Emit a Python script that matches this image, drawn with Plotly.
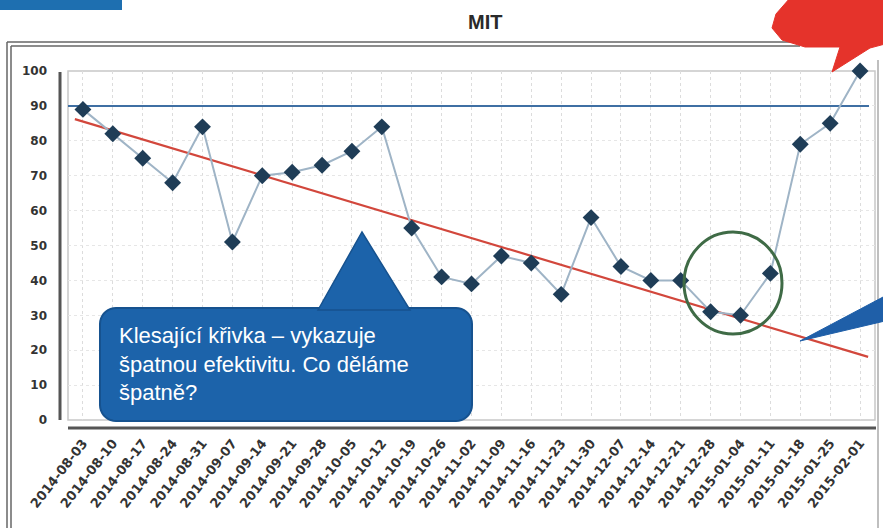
import math
import plotly.graph_objects as go

# ---- data ----
dates = ["2014-08-03", "2014-08-10", "2014-08-17", "2014-08-24", "2014-08-31",
         "2014-09-07", "2014-09-14", "2014-09-21", "2014-09-28", "2014-10-05",
         "2014-10-12", "2014-10-19", "2014-10-26", "2014-11-02", "2014-11-09",
         "2014-11-16", "2014-11-23", "2014-11-30", "2014-12-07", "2014-12-14",
         "2014-12-21", "2014-12-28", "2015-01-04", "2015-01-11", "2015-01-18",
         "2015-01-25", "2015-02-01"]
values = [89, 82, 75, 68, 84, 51, 70, 71, 73, 77, 84, 55, 41, 39, 47, 45, 36,
          58, 44, 40, 40, 31, 30, 42, 79, 85, 100]
target = 90
trend_x = [-0.27, 26.27]
trend_y = [86.2, 18.1]
y_ticks = [0, 10, 20, 30, 40, 50, 60, 70, 80, 90, 100]
title_text = "MIT"
callout_text = "Klesající křivka – vykazuje<br>špatnou efektivitu. Co děláme<br>špatně?"

W, H = 883, 528
L, R, T, B = 68, 8, 71, 108
PW, PH = W - L - R, H - T - B


def px(x):
    return (x - L) / PW


def py(y):
    return (H - B - y) / PH


idx = list(range(len(dates)))

fig = go.Figure()
fig.add_trace(go.Scatter(x=[-0.5, 26.3], y=[target, target], mode="lines",
                         line=dict(color="#3f6fa3", width=2), hoverinfo="skip"))
fig.add_trace(go.Scatter(x=trend_x, y=trend_y, mode="lines",
                         line=dict(color="#d2473c", width=2.2), hoverinfo="skip"))
fig.add_trace(go.Scatter(x=idx, y=values, mode="lines+markers",
                         line=dict(color="#9fb4c6", width=2),
                         marker=dict(symbol="diamond", size=13, color="#1f3d57"),
                         cliponaxis=False))

shapes = []
# plot area border
shapes.append(dict(type="rect", xref="paper", yref="paper", x0=0, x1=1, y0=0, y1=1,
                   line=dict(color="#c8c8c8", width=1.5), layer="below"))
# y axis line and x axis line
shapes.append(dict(type="line", xref="paper", yref="paper", x0=px(60), x1=px(60),
                   y0=py(420), y1=py(72), line=dict(color="#555", width=3)))
shapes.append(dict(type="line", xref="paper", yref="paper", x0=px(68), x1=px(876),
                   y0=py(428), y1=py(428), line=dict(color="#555", width=3)))
# outer frame
for off in (0, 4):
    shapes.append(dict(type="line", xref="paper", yref="paper", x0=px(7 + off), x1=px(7 + off),
                       y0=py(42 + off), y1=py(530), line=dict(color="#666", width=1.5)))
    shapes.append(dict(type="line", xref="paper", yref="paper", x0=px(7 + off), x1=px(800),
                       y0=py(42 + off), y1=py(42 + off), line=dict(color="#666", width=1.5)))
shapes.append(dict(type="line", xref="paper", yref="paper", x0=px(878), x1=px(878),
                   y0=py(60), y1=py(530), line=dict(color="#aaa", width=1.5)))


def path(points, closed=True):
    s = "M " + " L ".join(f"{px(a):.5f},{py(b):.5f}" for a, b in points)
    return s + (" Z" if closed else "")


# callout box (rounded rect) + pointer
x0b, x1b, y0b, y1b, r = 100, 472, 308, 421, 16
rr = []
for cx, cy, a0 in [(x1b - r, y0b + r, -90), (x1b - r, y1b - r, 0), (x0b + r, y1b - r, 90), (x0b + r, y0b + r, 180)]:
    for k in range(0, 91, 10):
        a = math.radians(a0 + k)
        rr.append((cx + r * math.cos(a), cy + r * math.sin(a)))
shapes.append(dict(type="path", xref="paper", yref="paper", path=path(rr),
                   fillcolor="#1c63aa", line=dict(color="#16528f", width=2)))
shapes.append(dict(type="path", xref="paper", yref="paper",
                   path=path([(318, 310), (362, 232), (410, 310)]),
                   fillcolor="#1c63aa", line=dict(color="#16528f", width=1.5)))
# green circle
shapes.append(dict(type="circle", xref="paper", yref="paper", x0=px(684), x1=px(782),
                   y0=py(334), y1=py(232), line=dict(color="#3f6b46", width=3)))
# red callout (clipped at top-right)
shapes.append(dict(type="path", xref="paper", yref="paper",
                   path=path([(790, -2), (776, 14), (772, 28), (782, 40), (805, 47), (840, 47),
                              (832, 72), (870, 48), (885, 44), (885, -2)]),
                   fillcolor="#e5332b", line=dict(color="#e5332b", width=1)))
# blue pointer at right
shapes.append(dict(type="path", xref="paper", yref="paper",
                   path=path([(800, 341), (885, 296), (885, 321)]),
                   fillcolor="#1f5fa8", line=dict(color="#1f5fa8", width=1)))
# top-left blue bar
shapes.append(dict(type="rect", xref="paper", yref="paper", x0=px(-2), x1=px(122),
                   y0=py(10), y1=py(-2), fillcolor="#1e6fb0", line=dict(width=0)))

annotations = [
    dict(text=title_text, xref="paper", yref="paper", x=px(485), y=py(22),
         xanchor="center", yanchor="middle", showarrow=False,
         font=dict(family="Liberation Sans, Arial", size=20, color="#2a2a2a", weight=600)),
    dict(text=callout_text, xref="paper", yref="paper", x=px(117), y=py(321),
         xanchor="left", yanchor="top", align="left", showarrow=False,
         font=dict(family="Liberation Sans, Arial", size=22, color="white")),
]

fig.update_layout(
    width=W, height=H,
    margin=dict(l=L, r=R, t=T, b=B),
    paper_bgcolor="white", plot_bgcolor="white",
    showlegend=False,
    shapes=shapes, annotations=annotations,
    xaxis=dict(range=[-0.5, 26.5], tickmode="array", tickvals=idx, ticktext=dates,
               tickangle=-52, showgrid=True, gridcolor="#dcdcdc", griddash="dot",
               zeroline=False, showline=False, ticks="", ticklabelstandoff=12,
               tickfont=dict(family="DejaVu Sans", size=13, color="#333", weight="bold")),
    yaxis=dict(range=[0, 100], tickmode="array", tickvals=y_ticks,
               showgrid=True, gridcolor="#e6e6e6", griddash="dot",
               zeroline=False, showline=False, ticks="", ticklabelstandoff=20,
               tickfont=dict(family="DejaVu Sans", size=12, color="#333", weight="bold")),
)

fig.write_html("out.html", config={"displayModeBar": False},
               post_script="document.body.style.margin='0';")
